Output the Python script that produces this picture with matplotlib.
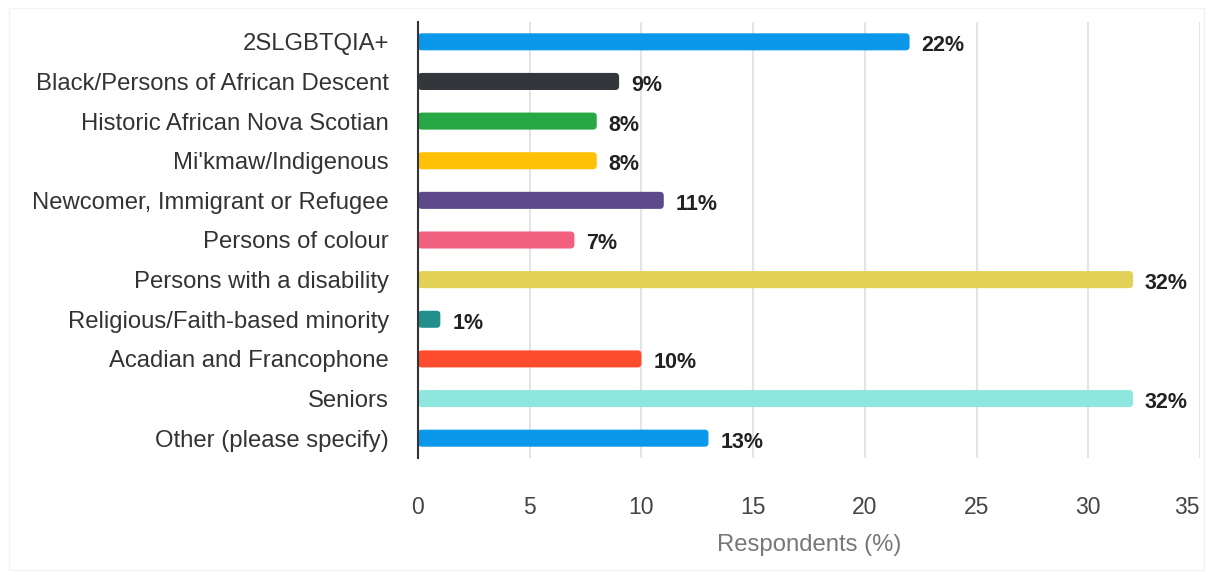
"""Horizontal bar chart of respondent groups (share of respondents)."""

import matplotlib

matplotlib.use("Agg")
import matplotlib.pyplot as plt
from matplotlib.patches import FancyBboxPatch, Rectangle

CATEGORIES = [
    "2SLGBTQIA+",
    "Black/Persons of African Descent",
    "Historic African Nova Scotian",
    "Mi'kmaw/Indigenous",
    "Newcomer, Immigrant or Refugee",
    "Persons of colour",
    "Persons with a disability",
    "Religious/Faith-based minority",
    "Acadian and Francophone",
    "Seniors",
    "Other (please specify)",
]
VALUES = [22, 9, 8, 8, 11, 7, 32, 1, 10, 32, 13]
COLORS = [
    "#0b97ea", "#33363b", "#28a745", "#ffc107", "#5e4a8b", "#f2607f",
    "#e2d156", "#228f8c", "#fd4b2d", "#8fe6df", "#0b97ea",
]
XTICKS = [0, 5, 10, 15, 20, 25, 30, 35]

plt.rcParams["font.family"] = ["Liberation Sans", "DejaVu Sans"]

W, H = 1209, 575
fig = plt.figure(figsize=(W / 100, H / 100), dpi=100)
fig.patch.set_facecolor("white")
fig.patches.append(Rectangle((9 / W, 5 / H), 1195 / W, 562 / H, transform=fig.transFigure,
                             fill=False, edgecolor="#f3f3f3", linewidth=1))

ax = fig.add_axes([418 / W, 1 - 458 / H, 782 / W, 436 / H])
ypos = list(range(len(CATEGORIES)))
bars = ax.barh(ypos, VALUES, height=0.43, color=COLORS)

ax.set_xlim(0, 35)
ax.set_ylim(len(CATEGORIES) - 0.5, -0.5)

# swap plain bars for rounded ones using the bar geometry
aspect = (1 / 39.6) / (35 / 782)
for b, c in zip(bars, COLORS):
    rb = FancyBboxPatch((b.get_x(), b.get_y()), b.get_width(), b.get_height(),
                        boxstyle="round,pad=0,rounding_size=0.17", mutation_aspect=aspect,
                        facecolor=c, edgecolor="none", zorder=2)
    b.set_visible(False)
    ax.add_patch(rb)

for y, v in zip(ypos, VALUES):
    ax.annotate(f"{v}%", (v, y), xytext=(12, -4), textcoords="offset pixels",
                ha="left", va="center", fontsize=15.5, fontweight="bold", color="#222222")

ax.set_yticks(ypos)
ax.set_yticklabels(CATEGORIES)
ax.set_xticks(XTICKS)
ax.tick_params(axis="y", length=0, pad=21, labelsize=17.2, labelcolor="#333333")
ax.tick_params(axis="x", length=0, pad=27, labelsize=16.5, labelcolor="#444444")
ax.get_xticklabels()[-1].set_horizontalalignment("right")
ax.set_xlabel("Respondents (%)", fontsize=17.2, color="#777777", labelpad=11)

ax.grid(axis="x", color="#e4e4e4", linewidth=1.5, zorder=0)
ax.set_axisbelow(True)
for s in ["top", "right", "bottom"]:
    ax.spines[s].set_visible(False)
ax.spines["left"].set_color("#333333")
ax.spines["left"].set_linewidth(1.5)
ax.spines["left"].set_zorder(3)

fig.savefig("out.png", dpi=100)
